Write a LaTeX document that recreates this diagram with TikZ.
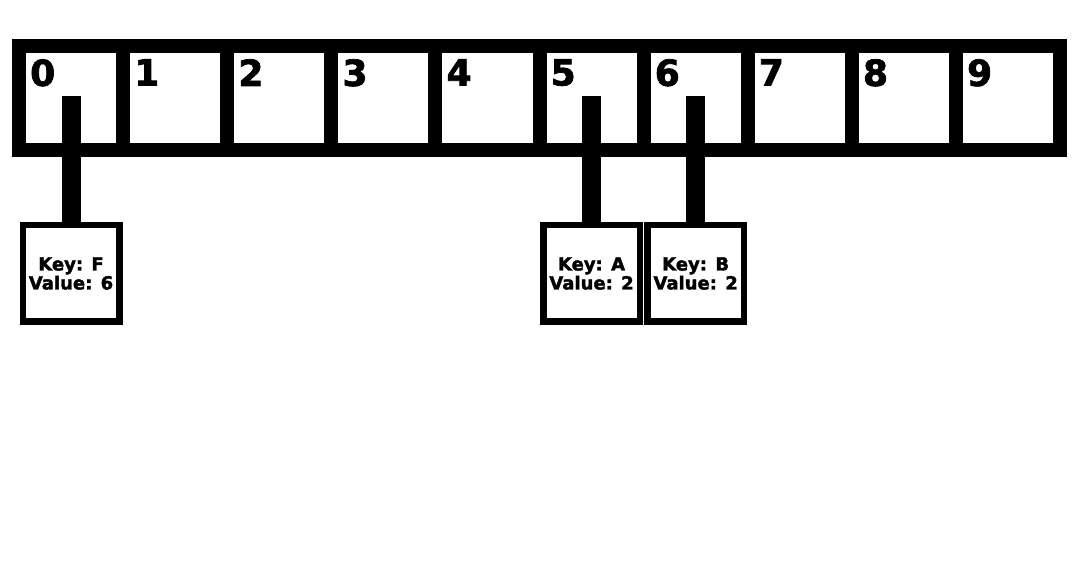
\documentclass[tikz,border=0pt]{standalone}
\usepackage{fontspec}
\setmainfont{DejaVu Sans}[BoldFeatures={FakeBold=2}]
\usetikzlibrary{positioning}

\begin{document}
\begin{tikzpicture}[
        cell/.style={rectangle, draw=black, line width=14pt, minimum width=104.1pt, minimum height=104pt, inner sep=0pt, outer sep=0pt},
        digit/.style={anchor=north west, inner sep=0pt, font=\fontsize{36}{36}\selectfont\bfseries},
        entry/.style={rectangle, draw=black, line width=6.5pt, minimum size=96.5pt, inner sep=0pt, outer sep=0pt, align=center, font=\fontsize{18}{19}\selectfont\bfseries},
        stem/.style={line width=19pt}
    ]
        \useasboundingbox (0pt,0pt) rectangle (1080pt,-564pt);

        \node[cell](c0) at (71.05pt,-98pt) {};
        \node[cell](c1) [right=0pt of c0] {};
        \node[cell](c2) [right=0pt of c1] {};
        \node[cell](c3) [right=0pt of c2] {};
        \node[cell](c4) [right=0pt of c3] {};
        \node[cell](c5) [right=0pt of c4] {};
        \node[cell](c6) [right=0pt of c5] {};
        \node[cell](c7) [right=0pt of c6] {};
        \node[cell](c8) [right=0pt of c7] {};
        \node[cell](c9) [right=0pt of c8] {};

        \node[digit](d0) at ([xshift=11pt, yshift=-13pt]c0.north west) {0};
        \node[digit](d1) at ([xshift=11pt, yshift=-13pt]c1.north west) {1};
        \node[digit](d2) at ([xshift=11pt, yshift=-13pt]c2.north west) {2};
        \node[digit](d3) at ([xshift=11pt, yshift=-13pt]c3.north west) {3};
        \node[digit](d4) at ([xshift=11pt, yshift=-13pt]c4.north west) {4};
        \node[digit](d5) at ([xshift=11pt, yshift=-13pt]c5.north west) {5};
        \node[digit](d6) at ([xshift=11pt, yshift=-13pt]c6.north west) {6};
        \node[digit](d7) at ([xshift=11pt, yshift=-13pt]c7.north west) {7};
        \node[digit](d8) at ([xshift=11pt, yshift=-13pt]c8.north west) {8};
        \node[digit](d9) at ([xshift=11pt, yshift=-13pt]c9.north west) {9};

        \node[entry](keyf) [below=75.25pt of c0] {Key: F\\Value: 6};
        \node[entry](keya) [below=75.25pt of c5] {Key: A\\Value: 2};
        \node[entry](keyb) [below=75.25pt of c6] {Key: B\\Value: 2};

        \draw[stem] ([yshift=2pt]c0.center) -- (keyf.north);
        \draw[stem] ([yshift=2pt]c5.center) -- (keya.north);
        \draw[stem] ([yshift=2pt]c6.center) -- (keyb.north);
\end{tikzpicture}
\end{document}
